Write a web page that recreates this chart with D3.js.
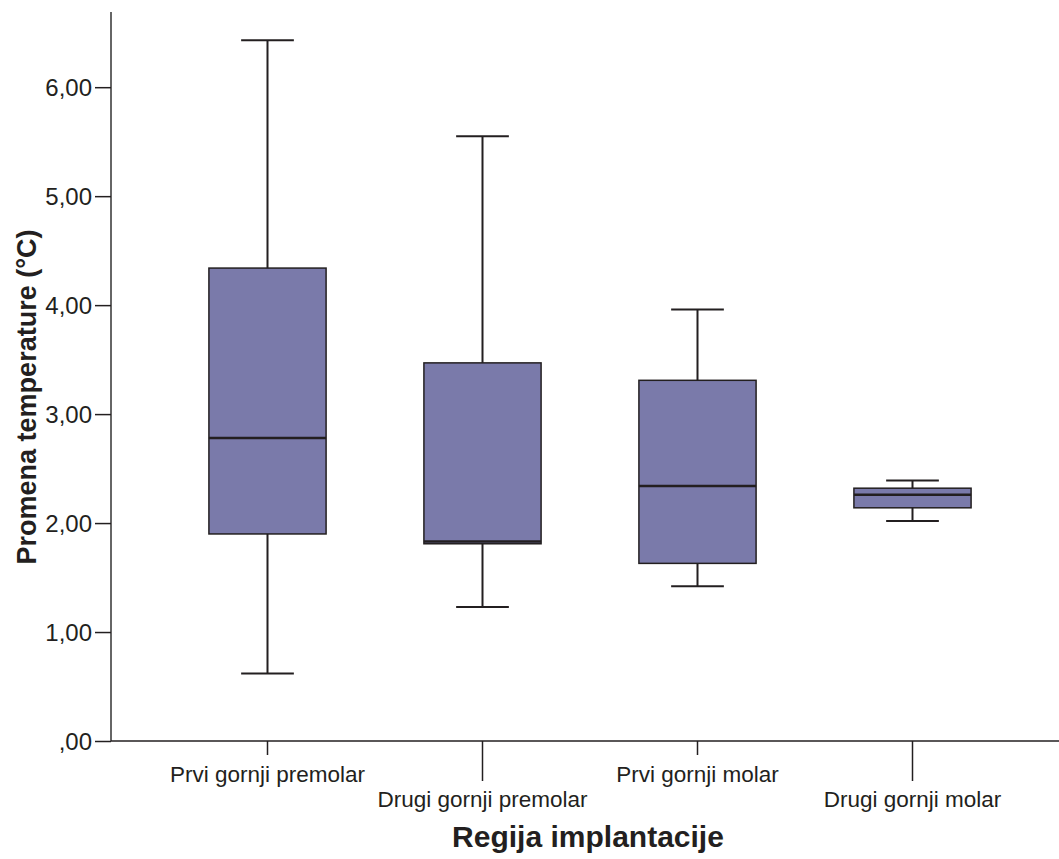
<!DOCTYPE html>
<html>
<head>
<meta charset="utf-8">
<script src="https://cdn.jsdelivr.net/npm/d3@7"></script>
<style>
	body{margin:0;background:#fff;}
	.chart{width:1059px;height:859px;}
	text{font-family:Arial, "Liberation Sans", sans-serif;fill:#231f20;}
</style>
</head>
<body>
<div class="chart"></div>
<script>
//Data
const categories = ['Prvi gornji premolar','Drugi gornji premolar','Prvi gornji molar','Drugi gornji molar'];
const whiskerLow = [0.62, 1.23, 1.42, 2.02];
const q1 = [1.90, 1.81, 1.63, 2.14];
const median = [2.78, 1.83, 2.34, 2.26];
const q3 = [4.34, 3.47, 3.31, 2.32];
const whiskerHigh = [6.43, 5.55, 3.96, 2.39];
const yTicks = [0, 1, 2, 3, 4, 5, 6];

const W = 1059, H = 859;
const svg = d3.select('.chart').append('svg')
	.attr('width', W).attr('height', H);

const y = d3.scaleLinear().domain([0, 6.69]).range([741, 12]);
const x = d3.scaleBand().domain(categories).range([160, 1020]);

const boxes = categories.map(function(c, i){
	return {cat:c, lo:whiskerLow[i], q1:q1[i], med:median[i], q3:q3[i], hi:whiskerHigh[i]};
});

const boxW = x.bandwidth() * 0.545;
const capW = boxW * 0.45;

const g = svg.selectAll('.box').data(boxes).enter()
	.append('g').attr('class','box')
	.attr('transform', function(d){ return `translate(${x(d.cat) + x.bandwidth()/2},0)`; });

//whiskers
g.append('line')
	.attr('x1',0).attr('x2',0)
	.attr('y1', function(d){return y(d.hi)})
	.attr('y2', function(d){return y(d.lo)})
	.style('stroke','#231f20').style('stroke-width',2);
g.append('line')
	.attr('x1',-capW/2).attr('x2',capW/2)
	.attr('y1', function(d){return y(d.hi)}).attr('y2', function(d){return y(d.hi)})
	.style('stroke','#231f20').style('stroke-width',2);
g.append('line')
	.attr('x1',-capW/2).attr('x2',capW/2)
	.attr('y1', function(d){return y(d.lo)}).attr('y2', function(d){return y(d.lo)})
	.style('stroke','#231f20').style('stroke-width',2);

//box
g.append('rect')
	.attr('x', -boxW/2).attr('width', boxW)
	.attr('y', function(d){return y(d.q3)})
	.attr('height', function(d){return y(d.q1) - y(d.q3)})
	.style('fill','#7a7aaa').style('stroke','#231f20').style('stroke-width',1.5);

//median
g.append('line')
	.attr('x1',-boxW/2).attr('x2',boxW/2)
	.attr('y1', function(d){return y(d.med)}).attr('y2', function(d){return y(d.med)})
	.style('stroke','#231f20').style('stroke-width',2.5);

//y axis
const yAxis = svg.append('g')
	.attr('transform','translate(111,0)')
	.call(d3.axisLeft(y).tickValues(yTicks).tickSize(16).tickPadding(3)
		.tickFormat(function(d){ return d === 0 ? ',00' : d3.format('.2f')(d).replace('.', ','); }));
yAxis.select('.domain').attr('d','M0,12V741').style('stroke','#666').style('stroke-width',2);
yAxis.selectAll('.tick line').style('stroke','#231f20').style('stroke-width',1.5);
yAxis.selectAll('.tick text').style('font-size','24px').attr('dy','0.36em')
	.style('font-family','Arial, "Liberation Sans", sans-serif').style('fill','#231f20');

//x axis
const xAxis = svg.append('g').attr('transform','translate(0,741)');
xAxis.append('line').attr('x1',111).attr('x2',1059)
	.style('stroke','#231f20').style('stroke-width',1.5);
const xt = xAxis.selectAll('.xtick').data(categories).enter()
	.append('g').attr('class','xtick')
	.attr('transform', function(d){ return `translate(${x(d) + x.bandwidth()/2},0)`; });
xt.append('line').attr('y1',0)
	.attr('y2', function(d,i){ return i % 2 ? 40 : 14; })
	.style('stroke','#231f20').style('stroke-width',1.5);
xt.append('text')
	.attr('text-anchor','middle')
	.attr('y', function(d,i){ return i % 2 ? 66 : 41; })
	.style('font-size','22.5px')
	.text(function(d){return d});

//axis titles
svg.append('text')
	.attr('transform','translate(36,397) rotate(-90)')
	.attr('text-anchor','middle')
	.style('font-size','27px').style('font-weight','bold')
	.text('Promena temperature (°C)');
svg.append('text')
	.attr('x',588).attr('y',847)
	.attr('text-anchor','middle')
	.style('font-size','30px').style('font-weight','bold')
	.text('Regija implantacije');
</script>
</body>
</html>
